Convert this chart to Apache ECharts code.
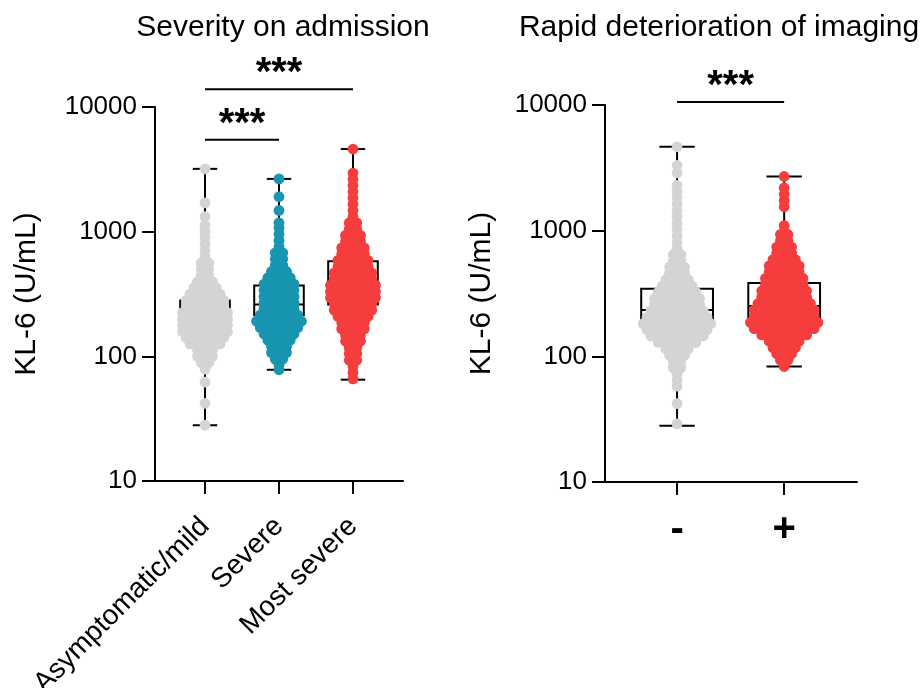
<!DOCTYPE html>
<html><head><meta charset="utf-8">
<script src="https://cdn.jsdelivr.net/npm/echarts@6/dist/echarts.min.js"></script>
<style>html,body{margin:0;padding:0;background:#fff}#c{width:921px;height:688px}</style>
</head><body><div id="c"></div>
<script>
// ---------- data ----------
const severityCategories = ['Asymptomatic/mild', 'Severe', 'Most severe'];
const imagingCategories = ['-', '+'];
const titles = ['Severity on admission', 'Rapid deterioration of imaging'];
const yAxisName = 'KL-6 (U/mL)';

// box stats: [min, Q1, median, Q3, max]  (U/mL)
const boxMild = [28, 165, 207, 281, 3190];
const boxSevere = [78, 214, 261, 370, 2650];
const boxMostSevere = [65, 261, 360, 578, 4600];
const boxImgNeg = [28, 185, 234, 345, 4650];
const boxImgPos = [83, 175, 251, 383, 2700];

// swarm rows: KL-6 level (U/mL) and how many dots sit side by side at that level
const mildLevels = [28, 42, 62, 79, 89, 100, 112, 126, 141, 158, 178, 200, 224, 251, 282, 316, 355, 398, 447, 501, 562, 631, 708, 794, 891, 1000, 1122, 1320, 1700, 3190];
const mildCounts = [1, 1, 1, 1, 2, 3, 3, 5, 6, 7, 7, 7, 7, 6, 6, 5, 4, 3, 2, 2, 2, 1, 1, 1, 1, 1, 1, 1, 1, 1];

const severeLevels = [78, 85, 95, 107, 120, 135, 151, 170, 191, 214, 240, 269, 302, 339, 380, 427, 479, 537, 603, 676, 759, 851, 955, 1072, 1175, 1479, 1905, 2650];
const severeCounts = [1, 1, 2, 3, 3, 4, 5, 6, 7, 6, 5, 5, 5, 5, 5, 4, 3, 2, 2, 2, 1, 1, 1, 1, 1, 1, 1, 1];

const mostLevels = [66, 74, 83, 93, 105, 117, 132, 148, 166, 186, 209, 234, 263, 295, 331, 372, 417, 468, 525, 589, 661, 741, 832, 933, 1047, 1175, 1318, 1479, 1660, 1862, 2089, 2344, 2630, 2951, 4600];
const mostCounts = [1, 1, 1, 2, 2, 2, 3, 3, 4, 4, 5, 6, 6, 7, 7, 7, 6, 6, 5, 5, 4, 4, 3, 3, 2, 2, 1, 1, 1, 1, 1, 1, 1, 1, 1];

const negLevels = [29, 42, 58, 65, 72, 81, 91, 102, 115, 129, 145, 162, 182, 204, 229, 257, 288, 324, 363, 407, 457, 513, 575, 646, 724, 813, 912, 1023, 1148, 1288, 1445, 1622, 1820, 2042, 2291, 2884, 3311, 4650];
const negCounts = [1, 1, 1, 1, 1, 2, 2, 3, 4, 6, 8, 9, 10, 9, 8, 7, 7, 6, 5, 4, 3, 3, 2, 2, 1, 1, 1, 1, 1, 1, 1, 1, 1, 1, 1, 1, 1, 1];

const posLevels = [83, 93, 105, 117, 132, 148, 166, 186, 209, 234, 263, 295, 331, 372, 417, 468, 525, 589, 661, 741, 832, 933, 1096, 1549, 1738, 1950, 2188, 2700];
const posCounts = [1, 2, 3, 4, 5, 7, 9, 10, 9, 9, 8, 7, 7, 6, 6, 5, 5, 4, 3, 3, 2, 2, 1, 1, 1, 1, 1, 1];

// significance brackets: [from category, to category, KL-6 level of bracket]
const sigSeverity = [[0, 1, 5450], [0, 2, 13900]];
const sigImaging = [[0, 1, 10570]];
const sigLabel = '***';

// ---------- styles ----------
const FONT = 'Liberation Sans, Arial, Helvetica, sans-serif';
const GRAY = '#d4d4d4', BLUE = '#1895b1', RED = '#f53d3d';
const DOT_R = 5.4, DOT_STEP = 7.5;

function rows(gi, levels, counts) {
  return levels.map((v, i) => [gi, v, counts[i]]);
}

function swarmItem(params, api) {
  const gi = api.value(0), v = api.value(1), n = api.value(2);
  const c = api.coord([gi, v]);
  const color = api.visual('color');
  const children = [];
  for (let i = 0; i < n; i++) {
    const dx = (i - (n - 1) / 2) * DOT_STEP;
    children.push({ type: 'circle', shape: { cx: c[0] + dx, cy: c[1], r: DOT_R }, style: { fill: color } });
  }
  return { type: 'group', children };
}

function boxItem(params, api) {
  const gi = api.value(0);
  const pMin = api.coord([gi, api.value(1)]);
  const pQ1 = api.coord([gi, api.value(2)]);
  const pMed = api.coord([gi, api.value(3)]);
  const pQ3 = api.coord([gi, api.value(4)]);
  const pMax = api.coord([gi, api.value(5)]);
  const unit = api.coord([gi + 1, api.value(3)])[0] - pMed[0];
  const bw = unit * 0.335, cw = unit * 0.165;
  const x = pMed[0];
  const st = { stroke: '#000', lineWidth: 2, fill: 'none' };
  return {
    type: 'group', children: [
      { type: 'line', shape: { x1: x, y1: pMin[1], x2: x, y2: pMax[1] }, style: st },
      { type: 'line', shape: { x1: x - cw, y1: pMin[1], x2: x + cw, y2: pMin[1] }, style: st },
      { type: 'line', shape: { x1: x - cw, y1: pMax[1], x2: x + cw, y2: pMax[1] }, style: st },
      { type: 'rect', shape: { x: x - bw, y: pQ3[1], width: 2 * bw, height: pQ1[1] - pQ3[1] }, style: st },
      { type: 'line', shape: { x1: x - bw, y1: pMed[1], x2: x + bw, y2: pMed[1] }, style: st }
    ]
  };
}

function sigItem(params, api) {
  const p1 = api.coord([api.value(0), api.value(2)]);
  const p2 = api.coord([api.value(1), api.value(2)]);
  return {
    type: 'group', children: [
      { type: 'line', shape: { x1: p1[0], y1: p1[1], x2: p2[0], y2: p2[1] }, style: { stroke: '#000', lineWidth: 2 } },
      { type: 'text', x: (p1[0] + p2[0]) / 2, y: p1[1] + 5,
        style: { text: sigLabel, fontSize: 40, fontWeight: 'bold', fontFamily: FONT, fill: '#000', align: 'center', verticalAlign: 'bottom' } }
    ]
  };
}

const lineSt = { color: '#000', width: 2 };
function yAx(gridIndex, nameGap) {
  return {
    gridIndex, type: 'log', logBase: 10, min: 10, max: 10000,
    name: yAxisName, nameLocation: 'middle', nameGap,
    nameTextStyle: { fontSize: 30, color: '#000', fontFamily: FONT },
    axisLine: { show: true, onZero: false, lineStyle: lineSt },
    axisTick: { show: true, length: 13, lineStyle: lineSt },
    axisLabel: { fontSize: 26, color: '#000', margin: 18, fontFamily: FONT, formatter: v => String(Math.round(v)) },
    splitLine: { show: false }, minorTick: { show: false }
  };
}

const option = {
  animation: false,
  backgroundColor: '#fff',
  textStyle: { fontFamily: FONT },
  title: [
    { text: titles[0], left: 278, top: 8, textAlign: 'center', textStyle: { fontSize: 30, fontWeight: 'normal', color: '#000', fontFamily: FONT } },
    { text: titles[1], left: 714, top: 8, textAlign: 'center', textStyle: { fontSize: 30, fontWeight: 'normal', color: '#000', fontFamily: FONT } }
  ],
  grid: [
    { left: 155, top: 107, width: 248, height: 374, containLabel: false, outerBoundsMode: 'none' },
    { left: 605, top: 105, width: 252, height: 377, containLabel: false, outerBoundsMode: 'none' }
  ],
  xAxis: [
    { gridIndex: 0, type: 'value', min: -0.676, max: 2.676,
      axisLine: { show: true, onZero: false, lineStyle: lineSt },
      axisTick: { show: true, customValues: [0, 1, 2], length: 13, lineStyle: lineSt },
      axisLabel: { customValues: [0, 1, 2], formatter: v => severityCategories[Math.round(v)], rotate: 45, fontSize: 28, color: '#000', margin: 41, fontFamily: FONT },
      splitLine: { show: false } },
    { gridIndex: 1, type: 'value', min: -0.673, max: 1.68,
      axisLine: { show: true, onZero: false, lineStyle: lineSt },
      axisTick: { show: true, customValues: [0, 1], length: 13, lineStyle: lineSt },
      axisLabel: { customValues: [0, 1], formatter: v => imagingCategories[Math.round(v)], fontSize: 40, fontWeight: 'bold', color: '#000', margin: 28, fontFamily: FONT },
      splitLine: { show: false } }
  ],
  yAxis: [yAx(0, 113), yAx(1, 108)],
  series: [
    { type: 'custom', xAxisIndex: 0, yAxisIndex: 0, renderItem: boxItem, encode: { x: 0, y: [1, 2, 3, 4, 5] }, clip: false, z: 1,
      data: [[0, ...boxMild], [1, ...boxSevere], [2, ...boxMostSevere]] },
    { type: 'custom', xAxisIndex: 1, yAxisIndex: 1, renderItem: boxItem, encode: { x: 0, y: [1, 2, 3, 4, 5] }, clip: false, z: 1,
      data: [[0, ...boxImgNeg], [1, ...boxImgPos]] },
    { type: 'custom', xAxisIndex: 0, yAxisIndex: 0, renderItem: swarmItem, encode: { x: 0, y: 1 }, z: 2, itemStyle: { color: GRAY }, data: rows(0, mildLevels, mildCounts) },
    { type: 'custom', xAxisIndex: 0, yAxisIndex: 0, renderItem: swarmItem, encode: { x: 0, y: 1 }, z: 2, itemStyle: { color: BLUE }, data: rows(1, severeLevels, severeCounts) },
    { type: 'custom', xAxisIndex: 0, yAxisIndex: 0, renderItem: swarmItem, encode: { x: 0, y: 1 }, z: 2, itemStyle: { color: RED }, data: rows(2, mostLevels, mostCounts) },
    { type: 'custom', xAxisIndex: 1, yAxisIndex: 1, renderItem: swarmItem, encode: { x: 0, y: 1 }, z: 2, itemStyle: { color: GRAY }, data: rows(0, negLevels, negCounts) },
    { type: 'custom', xAxisIndex: 1, yAxisIndex: 1, renderItem: swarmItem, encode: { x: 0, y: 1 }, z: 2, itemStyle: { color: RED }, data: rows(1, posLevels, posCounts) },
    { type: 'custom', xAxisIndex: 0, yAxisIndex: 0, renderItem: sigItem, encode: { x: [0, 1], y: 2 }, clip: false, z: 3, data: sigSeverity },
    { type: 'custom', xAxisIndex: 1, yAxisIndex: 1, renderItem: sigItem, encode: { x: [0, 1], y: 2 }, clip: false, z: 3, data: sigImaging }
  ]
};
const chart = echarts.init(document.getElementById('c'), null, { renderer: 'canvas' });
chart.setOption(option);
</script>
</body></html>
